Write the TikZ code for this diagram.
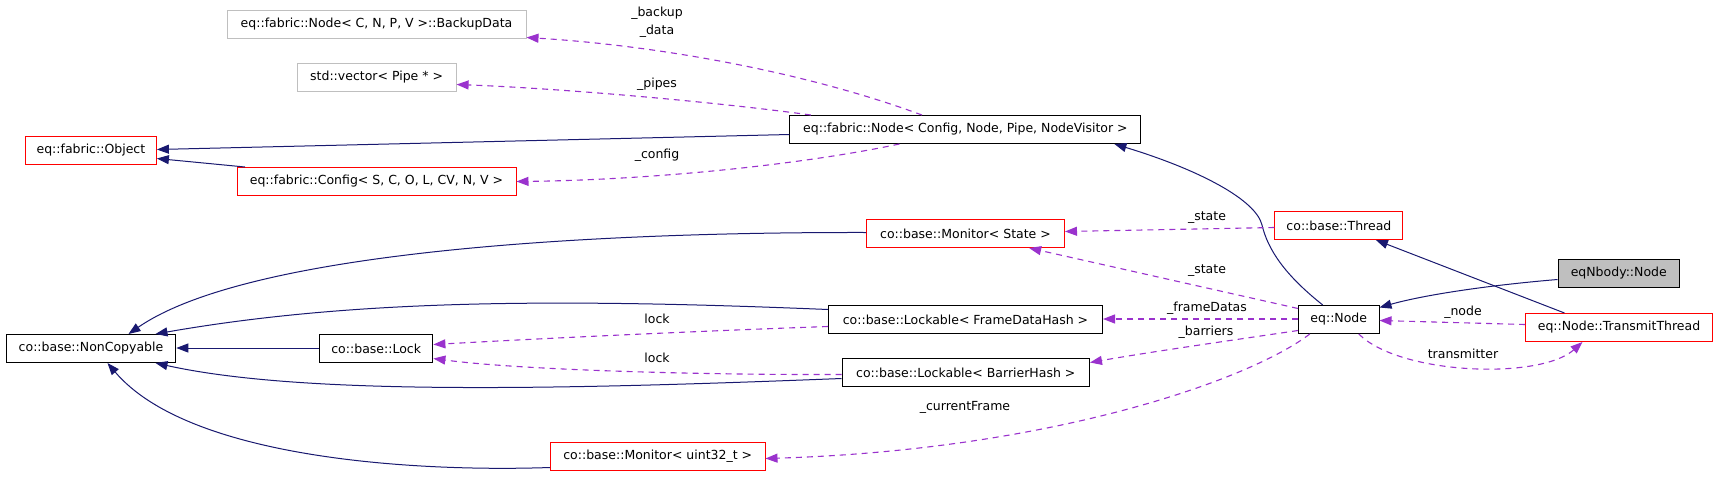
\documentclass[tikz,border=0pt]{standalone}
\usepackage{fontspec}
\setmainfont{DejaVu Sans}
\usetikzlibrary{arrows.meta,calc}
\definecolor{navy}{HTML}{191970}
\definecolor{purp}{HTML}{9A32CD}
\definecolor{gbord}{HTML}{BFBFBF}
\definecolor{boxred}{HTML}{FF0000}
\begin{document}
\begin{tikzpicture}[x=1pt,y=-1pt,
  cls/.style={draw=black, line width=1pt, fill=white, inner sep=0pt, minimum height=28pt, anchor=north west, font=\fontsize{12.5}{15}\selectfont},
  redcls/.style={cls, draw=boxred},
  graycls/.style={cls, draw=gbord},
  inh/.style={draw=navy, line width=1pt, -{Triangle[length=12pt,width=9pt]}},
  usedge/.style={draw=purp, line width=1.1pt, dash pattern=on 6pt off 5pt, -{Triangle[length=12pt,width=9pt]}},
  lbl/.style={font=\fontsize{12.5}{18}\selectfont, inner sep=0pt, align=center}]
\fill[white] (0,0) rectangle (1717,477);
\useasboundingbox (0,0) rectangle (1717,477);

% nodes
\node[graycls, minimum width=299pt] (backup) at (226.5,10) {eq::fabric::Node< C, N, P, V >::BackupData};
\node[graycls, minimum width=159pt] (vec) at (296.6,63) {std::vector< Pipe * >};
\node[redcls, minimum width=131pt] (obj) at (24.9,136) {eq::fabric::Object};
\node[redcls, minimum width=279pt] (cfg) at (236.5,167) {eq::fabric::Config< S, C, O, L, CV, N, V >};
\node[cls, minimum width=351pt] (fnode) at (789.4,115) {eq::fabric::Node< Config, Node, Pipe, NodeVisitor >};
\node[redcls, minimum width=198pt] (monState) at (866,219) {co::base::Monitor< State >};
\node[redcls, minimum width=128pt] (thread) at (1274.4,211) {co::base::Thread};
\node[cls, fill=gbord, minimum width=121.5pt] (nbody) at (1557.5,259) {eqNbody::Node};
\node[cls, minimum width=80.5pt] (eqnode) at (1298,305) {eq::Node};
\node[redcls, minimum width=187pt] (tt) at (1525,313) {eq::Node::TransmitThread};
\node[cls, minimum width=169.6pt] (nc) at (5.7,334) {co::base::NonCopyable};
\node[cls, minimum width=113.4pt] (lock) at (319,334) {co::base::Lock};
\node[cls, minimum width=274pt] (lfd) at (828,305) {co::base::Lockable< FrameDataHash >};
\node[cls, minimum width=247.5pt] (lbh) at (841.5,358) {co::base::Lockable< BarrierHash >};
\node[redcls, minimum width=214.5pt] (mu) at (550,442) {co::base::Monitor< uint32\_t >};

% inheritance
\draw[inh] ($(fnode.west)+(0,5)$) -- ($(obj.east)+(0,-1)$);
\draw[inh] ($(cfg.north west)+(8.5,0)$) -- ($(obj.east)+(0,8)$);
\draw[inh] ($(eqnode.north)+(-16,0)$) .. controls (1285,275) and (1268,250) .. (1262,225)
   .. controls (1256,200) and (1200,170) .. ($(fnode.south east)+(-27,0)$);
\draw[inh] ($(nbody.west)+(0,6)$) .. controls (1480,286) and (1420,296) .. ($(eqnode.east)+(0,-12)$);
\draw[inh] ($(tt.north)+(-54.5,0)$) -- ($(thread.south)+(37,0)$);
\draw[inh] ($(monState.west)+(0,-1)$) .. controls (600,232) and (250,250) .. ($(nc.north)+(37.5,0)$);
\draw[inh] ($(lfd.west)+(0,-10)$) .. controls (550,298) and (350,300) .. ($(nc.north)+(64.5,0)$);
\draw[inh] ($(lock.west)+(0,-0.5)$) -- ($(nc.east)+(0,-0.5)$);
\draw[inh] ($(lbh.west)+(0,6)$) .. controls (550,390) and (300,395) .. ($(nc.south)+(64.5,0)$);
\draw[inh] ($(mu.west)+(0,11)$) .. controls (420,472) and (190,460) .. ($(nc.south)+(16.5,0)$);

% usage
\draw[usedge] ($(fnode.north)+(-43.5,0)$) .. controls (800,70) and (650,45) .. ($(backup.east)+(0,13)$);
\draw[usedge] ($(fnode.north)+(-154.5,0)$) .. controls (700,100) and (550,88) .. ($(vec.east)+(0,7)$);
\draw[usedge] ($(fnode.south)+(-66,0)$) .. controls (800,165) and (650,180) .. ($(cfg.east)+(0,0)$);
\draw[usedge] ($(thread.west)+(0,2)$) -- ($(monState.east)+(0,-2)$);
\draw[usedge] ($(eqnode.west)+(0,-11)$) -- ($(monState.south)+(63.6,0)$);
\draw[usedge] ($(eqnode.west)+(0,-0.5)$) -- ($(lfd.east)+(0,-0.5)$);
\draw[usedge] ($(eqnode.west)+(0,11)$) .. controls (1220,342) and (1150,352) .. ($(lbh.east)+(0,-10)$);
\draw[usedge] ($(eqnode.south)+(-29,0)$) .. controls (1250,380) and (1050,450) .. ($(mu.east)+(0,2)$);
\draw[usedge] ($(lfd.west)+(0,7)$) .. controls (700,331) and (550,338) .. ($(lock.east)+(0,-4)$);
\draw[usedge] ($(lbh.west)+(0,2)$) .. controls (700,375) and (520,370) .. ($(lock.east)+(0,10)$);
\draw[usedge] ($(tt.west)+(0,-3)$) -- ($(eqnode.east)+(0,1)$);
\draw[usedge] ($(eqnode.south)+(20,0)$) .. controls (1400,375) and (1540,380) .. ($(tt.south)+(-36.5,0)$);

% labels
\node[lbl] (lbackup) at (657,22) {\_backup\\\_data};
\node[lbl] (lpipes) at (657,84) {\_pipes};
\node[lbl] (lconfig) at (657,155) {\_config};
\node[lbl] (lstate1) at (1207,218) {\_state};
\node[lbl] (lstate2) at (1207,271) {\_state};
\node[lbl] (lframe) at (1207,308) {\_frameDatas};
\node[lbl] (lbarr) at (1206,332) {\_barriers};
\node[lbl] (llock1) at (657,319) {lock};
\node[lbl] (llock2) at (657,358) {lock};
\node[lbl] (lcur) at (965,407) {\_currentFrame};
\node[lbl] (lnode) at (1463,312) {\_node};
\node[lbl] (ltrans) at (1463,354) {transmitter};
\end{tikzpicture}
\end{document}
